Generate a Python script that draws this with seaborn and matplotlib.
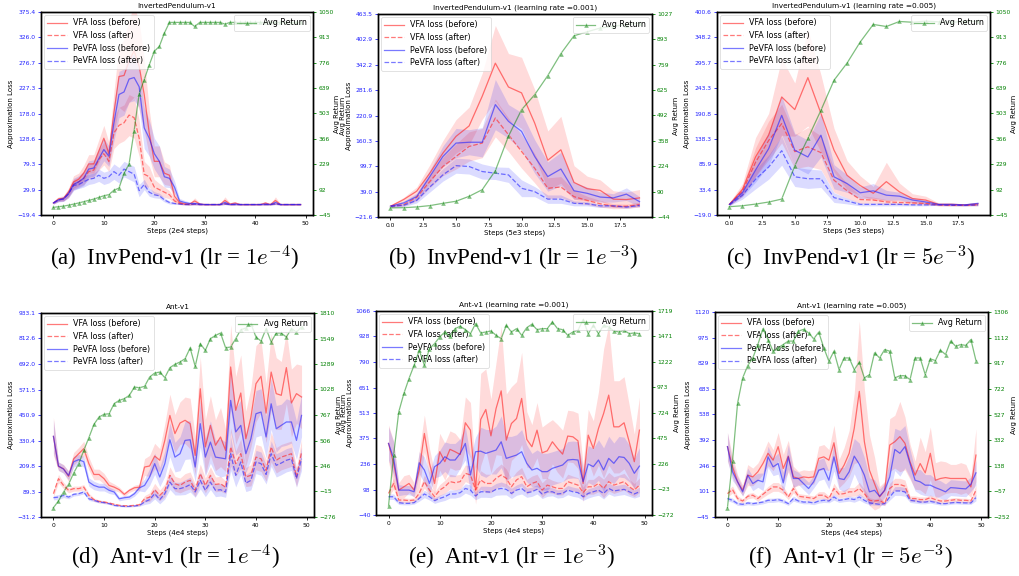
import numpy as np
import matplotlib
matplotlib.use("Agg")
import matplotlib.pyplot as plt
import seaborn as sns

# ---------------- data ----------------
STEPS_50 = list(range(50))
STEPS_20 = list(range(20))
LABELS = ["VFA loss (before)", "VFA loss (after)", "PeVFA loss (before)", "PeVFA loss (after)"]

# (a) InvertedPendulum-v1 lr=1e-4
A_VFA_B = [4,12,13,25,45, 50,62,80,80,105, 130,100,180,250,252, 280,300,270,215,140, 85,85,62,58,17, 5,2,2,8,2, 1,1,1,1,9, 2,4,1,1,1, 1,1,4,1,9, 1,1,1,1,1]
A_PE_B = [4,10,12,22,40, 45,52,70,72,90, 108,95,160,215,220, 245,248,230,150,130, 100,85,55,52,35, 8,5,3,3,2, 1,1,1,1,5, 1,2,1,1,1, 1,1,2,1,5, 1,1,1,1,1]
A_VFA_A = [4,10,12,22,40, 45,52,65,68,88, 100,85,140,155,160, 175,170,130,60,55, 35,30,25,20,8, 3,2,1,2,1, 1,1,1,1,3, 1,1,1,1,1, 1,1,1,1,3, 1,1,1,1,1]
A_PE_A = [4,10,12,22,38, 40,45,50,52,58, 52,55,65,58,70, 65,60,28,40,25, 20,18,10,5,3, 2,1,1,2,1, 1,1,1,1,2, 1,1,1,1,1, 1,1,1,1,2, 1,1,1,1,1]
A_VFA_B_SD = [2,4,5,8,12, 12,15,18,18,22, 25,22,40,60,70, 80,90,85,70,45, 30,30,22,20,10, 4,2,2,6,2, 1,1,1,1,7, 2,3,1,1,1, 1,1,3,1,7, 1,1,1,1,1]
A_PE_B_SD = [2,4,5,8,12, 12,14,16,16,20, 22,20,35,45,45, 45,45,40,40,35, 30,30,20,18,12, 5,4,3,3,2, 1,1,1,1,4, 1,2,1,1,1, 1,1,2,1,4, 1,1,1,1,1]
A_VFA_A_SD = [2,3,4,8,10, 10,12,15,15,20, 22,20,30,35,35, 40,40,35,25,20, 15,12,10,8,5, 2,1,1,2,1, 1,1,1,1,2, 1,1,1,1,1, 1,1,1,1,2, 1,1,1,1,1]
A_PE_A_SD = [2,3,4,6,8, 8,10,10,10,12, 12,12,15,15,15, 15,15,12,10,8, 6,5,4,3,2, 1,1,1,1,1, 1,1,1,1,1, 1,1,1,1,1, 1,1,1,1,1, 1,1,1,1,1]
A_RET = [-4,0,3,8,14, 20,27,34,41,50, 59,65,89,100,180, 230,410,610,685,765, 838,865,937,994,994, 994,994,994,972,994, 994,994,994,994,985, 994,994,994,994,994, 994,994,994,994,994, 994,994,994,994,994]
A_LOSS_TICKS = ["−19.4", "29.9", "79.3", "128.6", "178.0", "227.3", "276.7", "326.0", "375.4"]
A_RET_TICKS = ["−45", "92", "229", "366", "503", "639", "776", "913", "1050"]

# (b) InvertedPendulum-v1 lr=1e-3
B_VFA_B = [4,20,40,83,131, 171,196,267,346,289, 275,203,114,139,61, 46,42,21,20,24]
B_PE_B = [4,12,27,75,123, 155,157,157,247,207, 183,123,75,93,41, 35,26,24,33,15]
B_VFA_A = [4,8,25,63,99, 123,147,155,215,175, 135,95,47,50,27, 18,10,4,4,8]
B_PE_A = [4,6,18,50,79, 101,99,87,83,79, 47,39,21,21,11, 10,5,5,2,6]
B_VFA_B_SD = [3,5,10,20,30, 40,45,55,90,80, 85,80,70,80,40, 30,25,20,18,20]
B_PE_B_SD = [3,4,8,15,25, 35,30,35,60,40, 45,40,35,40,20, 15,12,10,15,12]
B_VFA_A_SD = [3,4,8,15,22, 30,35,35,45,40, 40,35,25,25,15, 10,8,6,5,6]
B_PE_A_SD = [2,3,6,12,15, 18,18,18,15,18, 20,12,10,10,6, 5,4,3,3,3]
B_RET = [4,5,9,16,28, 39,65,100,200,382, 522,601,702,818,912, 933,953,962,971,979]
B_LOSS_TICKS = ["−21.6", "39.0", "99.7", "160.3", "220.9", "281.6", "342.2", "402.9", "463.5"]
B_RET_TICKS = ["−44", "90", "224", "358", "492", "625", "759", "893", "1027"]

# (c) InvertedPendulum-v1 lr=5e-3
C_VFA_B = [3,34,101,146,225, 199,265,191,115,63, 42,26,50,29,15, 12,3,3,2,4]
C_PE_B = [3,27,74,118,187, 115,101,146,60,46, 27,31,22,20,12, 8,3,3,2,5]
C_VFA_A = [3,30,90,135,170, 112,122,110,53,31, 13,12,8,7,6, 5,2,1,1,2]
C_PE_A = [2,22,55,80,114, 60,56,56,17,10, 3,3,3,3,2, 2,2,1,1,2]
C_VFA_B_SD = [3,12,40,45,80, 55,100,80,45,30, 20,14,40,18,10, 8,3,3,2,3]
C_PE_B_SD = [2,8,25,35,40, 35,35,45,25,18, 12,15,10,8,5, 4,2,2,2,3]
C_VFA_A_SD = [2,10,30,40,40, 35,40,35,25,15, 8,6,5,4,3, 3,2,1,1,2]
C_PE_A_SD = [2,8,20,25,30, 20,20,18,10,6, 3,3,3,3,2, 2,1,1,1,2]
C_RET = [0,5,14,25,41, 220,368,520,682,775, 888,983,972,999,995, 1001,997,995,999,1000]
C_LOSS_TICKS = ["−19.0", "33.4", "85.9", "138.3", "190.8", "243.3", "295.7", "348.2", "400.6"]
C_RET_TICKS = ["−45", "92", "229", "366", "503", "639", "776", "913", "1050"]

# (d) Ant-v1 lr=1e-4
D_VFA_B = [350,208,197,161,244, 268,292,221,170,170, 150,118,110,98,76, 95,107,110,205,210, 257,237,331,449,363, 413,426,410,260,575, 300,402,308,347,284, 678,473,555,339,441, 599,634,460,654,552, 544,675,508,552,536]
D_PE_B = [350,210,195,165,230, 240,230,134,118,110, 110,95,87,55,60, 63,79,107,118,158, 221,158,221,334,252, 268,331,334,205,410, 252,323,252,248,244, 520,371,402,268,339, 457,465,347,504,386, 402,418,418,331,449]
D_VFA_A = [79,150,118,95,103, 103,110,71,51,43, 40,35,29,24,22, 22,24,27,55,63, 98,71,95,166,126, 118,134,142,95,174, 118,166,123,126,110, 300,221,268,158,166, 252,244,189,300,237, 252,260,268,158,276]
D_PE_A = [60,63,71,63,76, 79,87,55,48,40, 37,32,24,21,19, 19,21,24,40,51, 79,51,79,134,103, 103,110,122,87,142, 95,134,95,98,87, 268,166,229,129,142, 229,221,170,268,213, 224,237,244,150,244]
D_VFA_B_SD = [90,20,20,25,30, 30,35,30,25,25, 25,20,15,12,10, 10,12,15,40,50, 60,55,80,100,90, 100,110,120,90,150, 130,140,120,140,100, 200,160,180,130,140, 180,170,140,180,170, 160,170,160,140,150]
D_PE_B_SD = [80,20,20,20,25, 25,25,20,20,18, 18,15,12,10,10, 10,12,15,30,40, 50,45,60,80,70, 80,90,90,70,110, 90,100,80,90,80, 150,110,120,90,100, 110,110,100,120,110, 100,110,100,90,100]
D_VFA_A_SD = [15,20,15,12,12, 12,12,10,8,6, 6,5,5,4,4, 4,4,5,15,20, 30,25,30,40,35, 35,40,40,30,45, 35,40,35,35,30, 90,60,70,45,50, 60,60,50,70,60, 60,60,60,45,60]
D_PE_A_SD = [10,12,10,8,8, 8,8,8,6,5, 5,4,4,3,3, 3,3,4,12,18, 25,20,25,35,30, 30,35,35,25,40, 30,35,30,30,25, 80,55,60,40,45, 55,55,45,60,55, 55,55,55,40,55]
D_RET = [-181,-112,-20,58,174, 269,406,535,671,746, 774,780,883,917,934, 968,1053,1046,1060,1155, 1196,1206,1149,1251,1285, 1309,1343,1452,1264,1496, 1428,1547,1581,1605,1455, 1462,1547,1639,1656,1701, 1564,1523,1650,1513,1605, 1605,1564,1650,1615,1667]
D_LOSS_TICKS = ["−31.2", "89.3", "209.8", "330.4", "450.9", "571.5", "692.0", "812.6", "933.1"]
D_RET_TICKS = ["−276", "−15", "246", "506", "767", "1028", "1289", "1549", "1810"]

# (e) Ant-v1 lr=1e-3
E_VFA_B = [348,240,95,113,131, 95,204,402,240,131, 303,249,316,303,288, 460,420,99,478,532, 389,537,633,366,456, 483,592,370,330,420, 297,308,357,321,290, 388,384,362,131,393, 321,429,510,610,438, 438,460,357,249,420]
E_PE_B = [348,267,95,95,95, 86,243,204,131,222, 240,276,258,258,294, 348,177,303,306,294, 303,312,357,267,276, 285,303,240,204,213, 195,195,213,222,231, 258,261,258,141,236, 222,258,204,267,240, 276,272,240,186,225]
E_VFA_A = [77,131,41,41,38, 41,77,141,95,59, 95,113,141,135,141, 186,177,95,150,131, 131,159,177,159,113, 150,168,113,131,141, 95,122,113,104,104, 141,131,122,81,113, 113,131,104,141,122, 131,141,113,95,122]
E_PE_A = [59,59,27,23,23, 27,50,74,59,38, 50,59,74,74,81, 104,95,63,86,86, 84,99,104,99,77, 95,104,81,86,99, 74,86,86,74,77, 95,86,81,59,77, 86,95,77,104,90, 95,99,86,74,86]
E_VFA_B_SD = [100,120,40,60,50, 40,100,100,80,60, 100,100,100,100,80, 140,150,80,250,220, 200,250,350,250,200, 200,250,150,120,150, 140,150,120,130,130, 140,140,150,100,140, 150,200,350,380,250, 250,250,200,150,180]
E_PE_B_SD = [90,90,30,25,25, 25,60,70,60,60, 70,80,90,90,80, 90,100,80,130,130, 120,130,140,120,110, 110,120,100,90,100, 100,100,90,90,90, 100,100,100,70,100, 100,110,120,120,110, 110,110,100,80,100]
E_VFA_A_SD = [20,30,15,12,12, 12,25,35,30,25, 30,35,40,40,40, 45,50,35,50,50, 50,55,60,50,45, 45,50,40,40,40, 40,40,35,35,35, 40,40,40,30,40, 40,45,50,50,45, 45,45,40,35,40]
E_PE_A_SD = [15,15,10,8,8, 8,15,20,18,15, 18,20,22,22,22, 25,28,20,30,30, 30,32,35,30,28, 28,30,25,25,25, 25,25,22,22,22, 25,25,25,20,25, 25,28,30,30,28, 28,28,25,22,25]
E_RET = [-184,313,735,914,1060, 1190,1336,1190,1352,1401, 1466,1514,1472,1547,1570, 1537,1498,1596,1505,1514, 1524,1482,1449,1579,1514, 1547,1482,1557,1589,1537, 1547,1547,1612,1547,1537, 1482,1514,1531,1635,1498, 1579,1498,1579,1563,1524, 1514,1531,1498,1505,1498]
E_LOSS_TICKS = ["−40", "98", "236", "375", "513", "651", "790", "928", "1066"]
E_RET_TICKS = ["−272", "−23", "226", "475", "724", "973", "1222", "1471", "1719"]

# (f) Ant-v1 lr=5e-3
F_VFA_B = [355,240,155,107,193, 183,212,259,317,278, 355,231,301,183,174, 183,179,183,288,297, 278,377,202,250,317, 459,669,383,221,145, 69,107,364,383,412, 374,269,193,259,206, 317,164,174,179,174, 174,174,174,126,307]
F_PE_B = [355,212,155,98,193, 145,164,155,297,240, 259,149,297,174,174, 145,117,155,221,231, 164,297,174,168,212, 301,255,193,98,107, 73,107,183,339,317, 355,259,164,155,136, 136,122,111,98,122, 120,117,115,141,206]
F_VFA_A = [88,111,60,46,73, 79,60,84,107,126, 126,107,69,117,73, 69,65,60,79,79, 60,117,84,88,98, 98,117,88,50,46, 50,31,117,140,140, 130,60,60,54,54, 65,54,46,46,50, 54,50,50,46,107]
F_PE_A = [60,50,31,27,35, 31,35,40,50,50, 54,46,31,60,46, 40,40,35,46,50, 46,69,50,54,60, 54,69,50,35,31, 27,31,69,103,103, 98,50,46,40,40, 44,38,31,31,35, 38,36,35,35,65]
F_VFA_B_SD = [80,60,40,30,60, 50,50,60,70,60, 80,80,90,60,40, 40,40,40,70,70, 60,100,80,100,130, 200,400,300,200,150, 60,50,150,150,200, 150,100,80,150,120, 150,100,100,90,80, 80,90,80,60,150]
F_PE_B_SD = [80,50,30,25,40, 40,40,50,60,50, 60,60,70,50,35, 35,35,35,60,60, 50,80,60,70,90, 100,120,100,80,60, 40,40,100,120,130, 120,80,60,70,60, 60,50,50,45,45, 45,45,45,40,70]
F_VFA_A_SD = [20,20,15,12,15, 15,15,18,22,25, 25,22,15,25,15, 15,15,15,20,20, 15,30,20,20,25, 25,35,25,15,12, 15,12,30,35,35, 35,15,15,15,15, 15,15,12,12,12, 12,12,12,12,30]
F_PE_A_SD = [12,12,10,8,10, 10,10,10,12,12, 12,12,10,15,10, 10,10,10,12,12, 10,18,12,12,15, 15,18,15,10,8, 8,8,18,25,25, 25,12,12,10,10, 10,10,8,8,8, 8,8,8,8,18]
F_RET = [-181,176,614,805,899, 957,1059,1179,1097,1008, 1034,1059,1085,1085,1161, 1174,1148,1102,1153,1034, 932,1008,868,957,957, 868,924,805,830,996, 957,1021,1008,805,822, 822,792,957,957,830, 950,937,1016,983,1085, 1046,1059,1052,1097,937]
F_LOSS_TICKS = ["−45", "101", "246", "392", "538", "683", "829", "975", "1120"]
F_RET_TICKS = ["−252", "−57", "138", "332", "527", "722", "917", "1112", "1306"]

TITLES = ["InvertedPendulum-v1", "InvertedPendulum-v1 (learning rate =0.001)",
          "InvertedPendulum-v1 (learning rate =0.005)", "Ant-v1",
          "Ant-v1 (learning rate =0.001)", "Ant-v1 (learning rate =0.005)"]
XLABELS = ["Steps (2e4 steps)", "Steps (5e3 steps)", "Steps (5e3 steps)",
           "Steps (4e4 steps)", "Steps (4e4 steps)", "Steps (4e4 steps)"]
CAPTIONS = [r"(a)  InvPend-v1 (lr = $1e^{-4}$)", r"(b)  InvPend-v1 (lr = $1e^{-3}$)",
            r"(c)  InvPend-v1 (lr = $5e^{-3}$)", r"(d)  Ant-v1 (lr = $1e^{-4}$)",
            r"(e)  Ant-v1 (lr = $1e^{-3}$)", r"(f)  Ant-v1 (lr = $5e^{-3}$)"]

# ---------------- drawing ----------------
plt.rcParams["mathtext.fontset"] = "cm"
plt.rcParams["axes.linewidth"] = 1.0

fig = plt.figure(figsize=(10.2, 5.76), dpi=100)

RED = "#ff2020"
BLUE = "#2020ff"
GREEN = "green"


def tv(labels):
    return [float(s.replace("−", "-")) for s in labels]


def panel(rect, steps, series, ret, loss_ticks, ret_ticks, title, xlabel,
          caption, cap_xy, extra_left=False):
    ax = fig.add_axes(rect)
    styles = [(RED, "-"), (RED, "--"), (BLUE, "-"), (BLUE, "--")]
    handles = []
    for (mean, sd), (col, ls), lab in zip(series, styles, LABELS):
        m = np.asarray(mean, float)
        s = np.asarray(sd, float)
        ax.fill_between(steps, m - s, m + s, color=col, alpha=0.16, lw=0)
        sns.lineplot(x=steps, y=m, ax=ax, color=col, alpha=0.6, lw=0.9,
                     linestyle=ls, legend=False)
        handles.append(ax.lines[-1])
    lt = tv(loss_ticks)
    ax.set_ylim(lt[0], lt[-1])
    ax.set_yticks(lt)
    ax.set_yticklabels(loss_ticks)
    ax.tick_params(axis="y", colors=BLUE, labelsize=4.3, length=2.5, width=0.6, pad=1.5)
    ax.tick_params(axis="x", labelsize=4.3, length=2.5, width=0.6, pad=1.5,
                   colors="black")
    ax.set_xlabel(xlabel, fontsize=5, labelpad=1.5)
    if extra_left:
        ax.set_ylabel("Avg Return\nApproximation Loss", fontsize=5, labelpad=1.5,
                      linespacing=1.0)
    else:
        ax.set_ylabel("Approximation Loss", fontsize=5, labelpad=2.5)
    ax.set_title(title, fontsize=5.3, pad=3)
    leg = ax.legend(handles, LABELS, loc="upper left", fontsize=5.8,
                    framealpha=0.8, borderpad=0.4, handlelength=2.4,
                    labelspacing=0.45, borderaxespad=0.4)
    leg.get_frame().set_linewidth(0.5)

    ax2 = ax.twinx()
    sns.lineplot(x=steps, y=np.asarray(ret, float), ax=ax2, color=GREEN, alpha=0.5,
                 lw=0.9, marker="^", markersize=3.5, markeredgewidth=0.3,
                 legend=False)
    rt = tv(ret_ticks)
    ax2.set_ylim(rt[0], rt[-1])
    ax2.set_yticks(rt)
    ax2.set_yticklabels(ret_ticks)
    ax2.tick_params(axis="y", colors=GREEN, labelsize=4.3, length=2.5, width=0.6, pad=1.2)
    ax2.set_ylabel("Avg Return", fontsize=5, labelpad=0.5)
    leg2 = ax2.legend([ax2.lines[-1]], ["Avg Return"], loc="upper right",
                      fontsize=5.8, framealpha=0.8, borderpad=0.4,
                      handlelength=2.4, borderaxespad=0.4)
    leg2.get_frame().set_linewidth(0.5)
    for sp in list(ax.spines.values()) + list(ax2.spines.values()):
        sp.set_color("black")

    fig.text(cap_xy[0], cap_xy[1], caption, ha="center", va="center",
             fontsize=16.5, family="Liberation Serif")


panel([0.0402, 0.6267, 0.2667, 0.3524], STEPS_50,
      [(A_VFA_B, A_VFA_B_SD), (A_VFA_A, A_VFA_A_SD), (A_PE_B, A_PE_B_SD), (A_PE_A, A_PE_A_SD)],
      A_RET, A_LOSS_TICKS, A_RET_TICKS, TITLES[0], XLABELS[0], CAPTIONS[0], (0.171, 0.552))
panel([0.3706, 0.6233, 0.2686, 0.3524], STEPS_20,
      [(B_VFA_B, B_VFA_B_SD), (B_VFA_A, B_VFA_A_SD), (B_PE_B, B_PE_B_SD), (B_PE_A, B_PE_A_SD)],
      B_RET, B_LOSS_TICKS, B_RET_TICKS, TITLES[1], XLABELS[1], CAPTIONS[1], (0.503, 0.552),
      extra_left=True)
panel([0.7029, 0.6267, 0.2680, 0.3524], STEPS_20,
      [(C_VFA_B, C_VFA_B_SD), (C_VFA_A, C_VFA_A_SD), (C_PE_B, C_PE_B_SD), (C_PE_A, C_PE_A_SD)],
      C_RET, C_LOSS_TICKS, C_RET_TICKS, TITLES[2], XLABELS[2], CAPTIONS[2], (0.834, 0.552))
panel([0.0402, 0.1024, 0.2676, 0.3542], STEPS_50,
      [(D_VFA_B, D_VFA_B_SD), (D_VFA_A, D_VFA_A_SD), (D_PE_B, D_PE_B_SD), (D_PE_A, D_PE_A_SD)],
      D_RET, D_LOSS_TICKS, D_RET_TICKS, TITLES[3], XLABELS[3], CAPTIONS[3], (0.172, 0.033))
panel([0.3686, 0.1059, 0.2706, 0.3542], STEPS_50,
      [(E_VFA_B, E_VFA_B_SD), (E_VFA_A, E_VFA_A_SD), (E_PE_B, E_PE_B_SD), (E_PE_A, E_PE_A_SD)],
      E_RET, E_LOSS_TICKS, E_RET_TICKS, TITLES[4], XLABELS[4], CAPTIONS[4], (0.502, 0.033),
      extra_left=True)
panel([0.7010, 0.1024, 0.2680, 0.3559], STEPS_50,
      [(F_VFA_B, F_VFA_B_SD), (F_VFA_A, F_VFA_A_SD), (F_PE_B, F_PE_B_SD), (F_PE_A, F_PE_A_SD)],
      F_RET, F_LOSS_TICKS, F_RET_TICKS, TITLES[5], XLABELS[5], CAPTIONS[5], (0.834, 0.033))

fig.savefig("out.png", dpi=100)
